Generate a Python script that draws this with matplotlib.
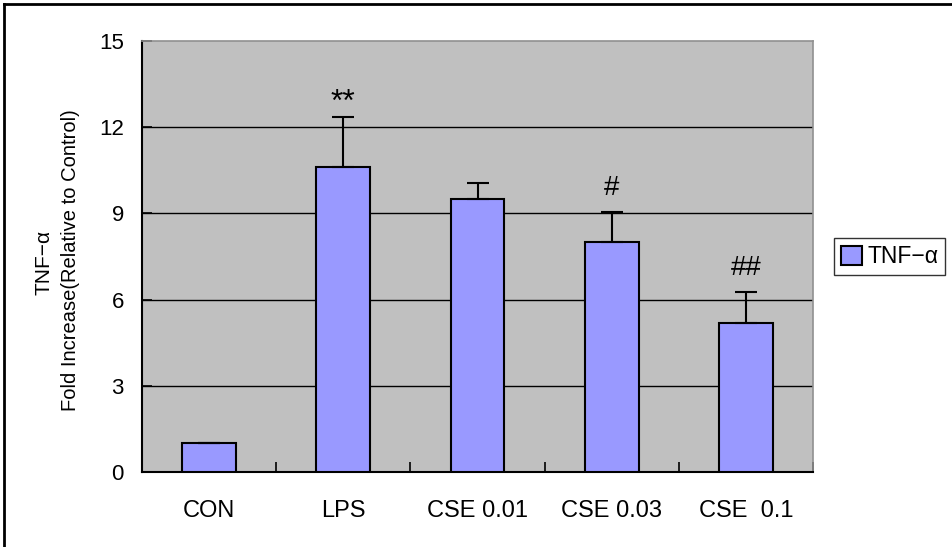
import matplotlib
matplotlib.use("Agg")
import matplotlib.pyplot as plt
from matplotlib.lines import Line2D
import numpy as np

plt.rcParams['font.family'] = ['Liberation Sans', 'DejaVu Sans']

categories = ["CON", "LPS", "CSE 0.01", "CSE 0.03", "CSE  0.1"]
fold_increase = [1.0, 10.6, 9.5, 8.0, 5.2]
error_upper = [0.0, 1.75, 0.55, 1.05, 1.05]
significance = ["", "**", "", "#", "##"]
y_ticks = [0, 3, 6, 9, 12, 15]
series_name = "TNF\u2212\u03b1"

W, H = 952, 547
fig = plt.figure(figsize=(W / 100, H / 100), dpi=100)

# outer chart border
fig.add_artist(Line2D([4 / W, 4 / W], [0, 1 - 4 / H], color="black", lw=2,
                      transform=fig.transFigure))
fig.add_artist(Line2D([4 / W, 1], [1 - 4 / H, 1 - 4 / H], color="black", lw=2,
                      transform=fig.transFigure))

left, right, top, bottom = 142, 813, 41, 472
ax = fig.add_axes([left / W, 1 - bottom / H, (right - left) / W, (bottom - top) / H])
ax.set_facecolor("#C0C0C0")

x = np.arange(len(categories))
ax.bar(x, fold_increase, width=0.4, color="#9999FF", edgecolor="black",
       linewidth=1.5, zorder=3, label=series_name)
ax.errorbar(x, fold_increase, yerr=[np.zeros(len(x)), error_upper], fmt="none",
            ecolor="black", elinewidth=1.5, capsize=8, capthick=1.5, zorder=4)

# significance marks above the error bars (asterisks sit high in the glyph box)
for xi, val, err, mark in zip(x, fold_increase, error_upper, significance):
    if mark == "**":
        ax.text(xi, val + err + 0.5, mark, ha="center", va="center", fontsize=23)
    elif mark:
        ax.text(xi, val + err + 0.85, mark, ha="center", va="center", fontsize=20)

ax.set_xlim(-0.5, len(categories) - 0.5)
ax.set_ylim(0, 15)
ax.set_yticks(y_ticks)
for t in y_ticks[1:-1]:
    ax.axhline(t, color="black", lw=1, zorder=1)

ax.set_xticks(x)
ax.set_xticklabels(categories, fontsize=17)
ax.set_xticks(np.arange(len(categories) + 1) - 0.5, minor=True)
ax.tick_params(axis="x", which="major", length=0, pad=20)
ax.tick_params(axis="x", which="minor", direction="in", length=7, width=1.2)
ax.tick_params(axis="y", direction="in", length=7, width=1.2, labelsize=16, pad=13)

for side in ("left", "bottom"):
    ax.spines[side].set_color("black")
    ax.spines[side].set_linewidth(1.5)
for side in ("top", "right"):
    ax.spines[side].set_color("#909090")
    ax.spines[side].set_linewidth(1.2)

fig.text(44 / W, 1 - 262 / H, series_name, rotation=90, ha="center", va="center",
         fontsize=15)
fig.text(71 / W, 1 - 260 / H, "Fold Increase(Relative to Control)", rotation=90,
         ha="center", va="center", fontsize=14.5)

leg = fig.legend(loc="center left", bbox_to_anchor=(834 / W, 1 - 256.5 / H),
                 fontsize=16.5, frameon=True, fancybox=False, handlelength=0.9,
                 handleheight=0.9, handletextpad=0.25, borderpad=0.3,
                 borderaxespad=0)
leg.get_frame().set_edgecolor("black")
leg.get_frame().set_linewidth(1.0)

fig.savefig("out.png", dpi=100)
